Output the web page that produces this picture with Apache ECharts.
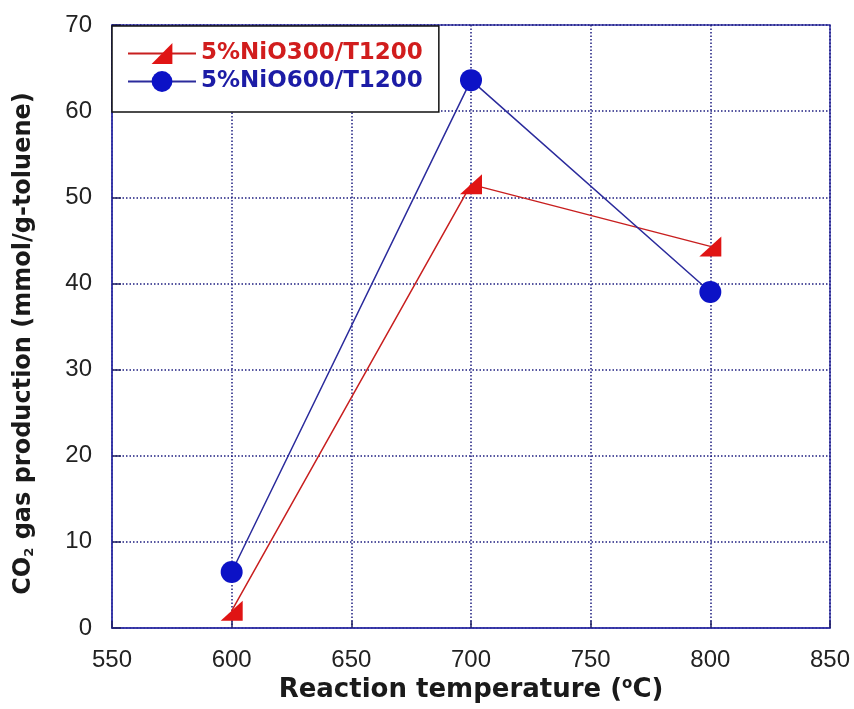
<!DOCTYPE html>
<html>
<head>
<meta charset="utf-8">
<script src="https://cdn.jsdelivr.net/npm/echarts@6/dist/echarts.min.js"></script>
<style>
  html, body { margin: 0; padding: 0; background: #ffffff; }
  #chart { width: 854px; height: 709px; }
</style>
</head>
<body>
<div id="chart"></div>
<script>
// Reaction temperatures (°C)
const temperatures = [600, 700, 800];
// CO2 gas production (mmol/g-toluene)
const nio300 = [2.0, 51.5, 44.3];
const nio600 = [6.5, 63.6, 39.0];
const seriesNames = ['5%NiO300/T1200', '5%NiO600/T1200'];

const axisBlue = '#3434a8';
const gridDots = '#1e1e80';

const chart = echarts.init(document.getElementById('chart'), null, { renderer: 'canvas' });

const toPairs = (xs, ys) => xs.map((x, i) => [x, ys[i]]);

chart.setOption({
  backgroundColor: '#ffffff',
  animation: false,
  grid: {
    left: 112, right: 24, top: 25, bottom: 81,
    show: true, borderColor: axisBlue, borderWidth: 1.5, backgroundColor: 'transparent'
  },
  legend: {
    orient: 'vertical',
    left: 112, top: 26,
    padding: [16, 16, 19, 15],
    itemGap: 5,
    itemWidth: 68, itemHeight: 26,
    backgroundColor: '#ffffff',
    borderColor: '#111111', borderWidth: 1.5,
    textStyle: { fontFamily: 'DejaVu Sans', fontWeight: 'bold', fontSize: 23 },
    data: [
      { name: seriesNames[0], textStyle: { color: '#d11d1d' } },
      { name: seriesNames[1], textStyle: { color: '#1c1ca6' } }
    ]
  },
  xAxis: {
    type: 'value', min: 550, max: 850, interval: 50,
    name: 'Reaction temperature ({sup|o}C)',
    nameLocation: 'middle', nameGap: 41,
    nameTextStyle: {
      fontFamily: 'DejaVu Sans', fontWeight: 'bold', fontSize: 26, color: '#1a1a1a',
      rich: { sup: { fontFamily: 'DejaVu Sans', fontWeight: 'bold', fontSize: 15, color: '#1a1a1a', verticalAlign: 'top', padding: [0, 0, 11, 0] } }
    },
    axisLine: { show: true, lineStyle: { color: axisBlue, width: 1.5 } },
    axisTick: { show: true, inside: true, length: 7, lineStyle: { color: '#222266', width: 1.5 } },
    axisLabel: { margin: 20, fontFamily: 'Liberation Sans', fontSize: 24, color: '#222222' },
    splitLine: { show: true, lineStyle: { color: gridDots, width: 1.5, type: [1.5, 2] } }
  },
  yAxis: {
    type: 'value', min: 0, max: 70, interval: 10,
    name: 'CO{sub|2} gas production (mmol/g-toluene)',
    nameLocation: 'middle', nameGap: 76,
    nameTextStyle: {
      fontFamily: 'DejaVu Sans', fontWeight: 'bold', fontSize: 24, color: '#1a1a1a',
      padding: [0, 34, 0, 0],
      rich: { sub: { fontFamily: 'DejaVu Sans', fontWeight: 'bold', fontSize: 13, color: '#1a1a1a', verticalAlign: 'bottom', padding: [11, 0, 0, 0] } }
    },
    axisLine: { show: true, lineStyle: { color: axisBlue, width: 1.5 } },
    axisTick: { show: true, inside: true, length: 9, lineStyle: { color: '#222266', width: 1.5 } },
    axisLabel: { margin: 20, fontFamily: 'Liberation Sans', fontSize: 24, color: '#222222' },
    splitLine: { show: true, lineStyle: { color: gridDots, width: 1.5, type: [1.5, 2] } }
  },
  series: [
    {
      name: seriesNames[0],
      type: 'line',
      data: toPairs(temperatures, nio300),
      symbol: 'path://M0,20 L22,20 L22,0 Z',
      symbolSize: [22, 20],
      lineStyle: { color: '#c81f1f', width: 1.5 },
      itemStyle: { color: '#e01414' },
      z: 3
    },
    {
      name: seriesNames[1],
      type: 'line',
      data: toPairs(temperatures, nio600),
      symbol: 'circle',
      symbolSize: 22,
      lineStyle: { color: '#2b2b9c', width: 1.5 },
      itemStyle: { color: '#0c12c6' },
      z: 4
    }
  ]
});
</script>
</body>
</html>
